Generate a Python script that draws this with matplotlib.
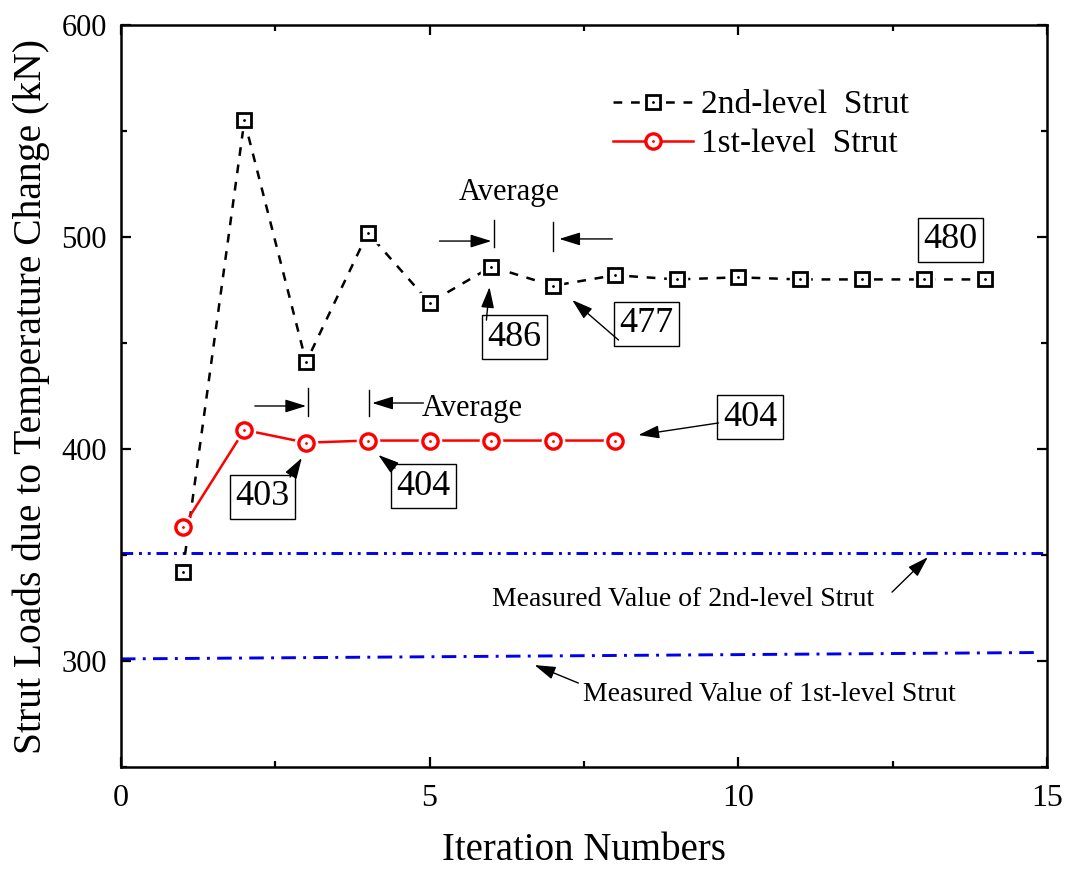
import matplotlib.pyplot as plt
from matplotlib.ticker import MultipleLocator
from matplotlib.legend_handler import HandlerTuple

plt.rcParams['font.family'] = ['Liberation Serif', 'DejaVu Serif']

# computed strut loads per iteration (kN)
iter_2nd = [1, 2, 3, 4, 5, 6, 7, 8, 9, 10, 11, 12, 13, 14]
load_2nd = [342, 555, 441, 502, 469, 486, 477, 482, 480, 481, 480, 480, 480, 480]
iter_1st = [1, 2, 3, 4, 5, 6, 7, 8]
load_1st = [363, 409, 403, 404, 404, 404, 404, 404]

# measured values in the field
meas_2nd_x = [0, 15]
meas_2nd_y = [351, 351]
meas_1st_x = [0, 14.8]
meas_1st_y = [301, 304]

fig = plt.figure(figsize=(10.7, 8.75), dpi=100)
ax = fig.add_axes([0.113, 0.1234, 0.8655, 0.848])

lw = 1.8
# white halo behind markers so the lines stop short of them
ax.plot(iter_2nd, load_2nd, ls='none', marker='s', ms=15, mfc='white', mec='white', zorder=3)
l2, = ax.plot(iter_2nd, load_2nd, color='black', lw=lw, ls=(0, (3.5, 3.5)), zorder=2)
m2, = ax.plot(iter_2nd, load_2nd, ls='none', marker='s', ms=10, mfc='white', mec='black', mew=2, zorder=4)
d2, = ax.plot(iter_2nd, load_2nd, ls='none', marker='.', ms=2, color='black', zorder=5)

ax.plot(iter_1st, load_1st, ls='none', marker='o', ms=16, mfc='white', mec='white', zorder=3)
l1, = ax.plot(iter_1st, load_1st, color='red', lw=lw, zorder=2)
m1, = ax.plot(iter_1st, load_1st, ls='none', marker='o', ms=11, mfc='white', mec='red', mew=2.4, zorder=4)
d1, = ax.plot(iter_1st, load_1st, ls='none', marker='.', ms=2, color='red', zorder=5)

ax.plot(meas_2nd_x, meas_2nd_y, color='#0000ee', lw=2.1, ls=(0, (4, 2, 1, 2, 1, 2)), zorder=1)
ax.plot(meas_1st_x, meas_1st_y, color='#0000ee', lw=2.1, ls=(0, (5, 2.5, 1, 2.5)), zorder=1)

ax.set_xlim(0, 15)
ax.set_ylim(250, 600)
ax.xaxis.set_major_locator(MultipleLocator(5))
ax.xaxis.set_minor_locator(MultipleLocator(2.5))
ax.yaxis.set_major_locator(MultipleLocator(100))
ax.yaxis.set_minor_locator(MultipleLocator(50))
ax.tick_params(which='both', direction='in', top=True, right=True, width=1.6)
ax.tick_params(which='major', length=7)
ax.tick_params(which='minor', length=4)
ax.tick_params(axis='x', labelsize=23, pad=12)
ax.tick_params(axis='y', labelsize=22, pad=10)
for sp in ax.spines.values():
    sp.set_linewidth(1.8)

ax.set_xlabel('Iteration Numbers', fontsize=28, labelpad=14)
ax.set_ylabel('Strut Loads due to Temperature Change (kN)', fontsize=28.5, labelpad=8)

ax.legend([(l2, m2, d2), (l1, m1, d1)], ['2nd-level  Strut', '1st-level  Strut'],
          handler_map={tuple: HandlerTuple(ndivide=1, pad=0)},
          loc='upper left', bbox_to_anchor=(0.513, 0.935), frameon=False,
          fontsize=24, handlelength=2.4, handletextpad=0.25, labelspacing=0.25,
          borderpad=0)

# value boxes
box = dict(boxstyle='square,pad=0.15', fc='white', ec='black', lw=1)
value_labels = [
    (str(load_2nd[5]), 6.37, 452.8),
    (str(load_2nd[6]), 8.51, 459.0),
    (str(load_2nd[13]), 13.43, 498.6),
    (str(load_1st[2]), 2.29, 377.4),
    (str(load_1st[3]), 4.90, 382.5),
    (str(load_1st[7]), 10.19, 415.0),
]
for txt, x, y in value_labels:
    ax.text(x, y, txt, fontsize=26, ha='center', va='center', bbox=box, zorder=6)

arrow = dict(arrowstyle='-|>,head_length=0.8,head_width=0.25', color='black',
             lw=1, mutation_scale=16, shrinkA=0, shrinkB=0)
arrows = [
    ((5.92, 460.8), (5.97, 476.4)),
    ((8.06, 451.4), (7.31, 470.3)),
    ((2.74, 386.8), (2.93, 395.8)),
    ((4.44, 391.0), (4.17, 397.2)),
    ((9.68, 412.3), (8.38, 406.6)),
    ((12.49, 332.5), (13.07, 349.0)),
    ((7.41, 289.6), (6.70, 298.1)),
    ((5.16, 498.1), (6.00, 498.1)),
    ((7.96, 499.1), (7.10, 499.1)),
    ((2.17, 420.3), (3.00, 420.3)),
    ((4.90, 421.7), (4.07, 421.7)),
]
for tail, tip in arrows:
    ax.annotate('', xy=tip, xytext=tail, arrowprops=arrow, zorder=6)

# bounds of the averaging range
for x, y0, y1 in [(6.05, 495.3, 508.0), (7.0, 493.4, 507.1),
                  (3.03, 415.6, 428.8), (4.02, 415.6, 427.8)]:
    ax.plot([x, x], [y0, y1], color='black', lw=1)

ax.text(6.29, 520.8, 'Average', fontsize=22, ha='center', va='center')
ax.text(5.69, 419.3, 'Average', fontsize=22, ha='center', va='center')
ax.text(9.11, 328.8, 'Measured Value of 2nd-level Strut', fontsize=20, ha='center', va='center')
ax.text(10.51, 284.0, 'Measured Value of 1st-level Strut', fontsize=20, ha='center', va='center')

fig.savefig('out.png', dpi=100)
